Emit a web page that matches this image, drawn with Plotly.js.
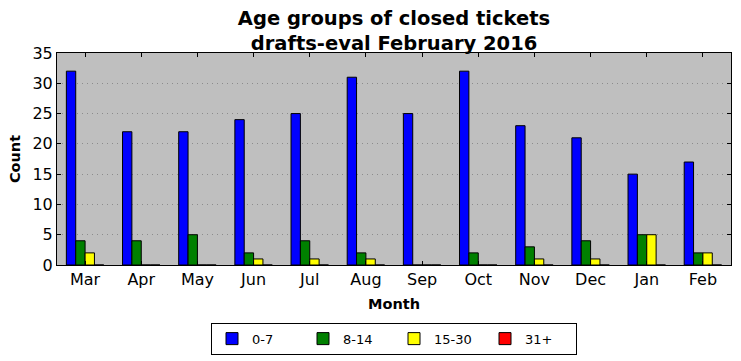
<!DOCTYPE html>
<html>
<head>
<meta charset="utf-8">
<script src="https://cdn.plot.ly/plotly-3.0.1.min.js"></script>
<style>html,body{margin:0;padding:0;background:#fff;}#chart{width:741px;height:361px;}</style>
</head>
<body>
<div id="chart"></div>
<script>
const months = ["Mar","Apr","May","Jun","Jul","Aug","Sep","Oct","Nov","Dec","Jan","Feb"];
const age0to7 = [32,22,22,24,25,31,25,32,23,21,15,17];
const age8to14 = [4,4,5,2,4,2,0,2,3,4,5,2];
const age15to30 = [2,0,0,1,1,1,0,0,1,1,5,2];
const age31plus = [0,0,0,0,0,0,0,0,0,0,0,0];
const seriesNames = ["0-7","8-14","15-30","31+"];
const seriesColors = ["#0000ff","#008000","#ffff00","#ff0000"];
const seriesData = [age0to7, age8to14, age15to30, age31plus];

const traces = seriesData.map((d,i)=>({
  type:'bar', x:months, y:d, name:seriesNames[i],
  marker:{color:seriesColors[i], line:{color:'#000', width:1}}
}));

const font = "DejaVu Sans, sans-serif";
const layout = {
  width:741, height:361,
  margin:{l:57, r:10, t:53, b:96, autoexpand:false},
  paper_bgcolor:'#fff', plot_bgcolor:'#bfbfbf',
  barmode:'group', bargap:1/3, bargroupgap:0,
  font:{family:font, color:'#000', size:16},
  title:{text:'<b>Age groups of closed tickets<br>drafts-eval February 2016</b>',
    font:{family:font, size:19.5, color:'#000'}, x:0.5, xref:'paper', xanchor:'center',
    y:1, yref:'paper', yanchor:'bottom', pad:{b:28}},
  xaxis:{type:'category', range:[-0.5,11.5], showline:true, linecolor:'#000', linewidth:1, mirror:'allticks',
    ticks:'inside', ticklen:4, tickcolor:'#000', showgrid:false, zeroline:false,
    tickfont:{family:font, size:16},
    title:{text:'<b>Month</b>', font:{family:font, size:14.5}, standoff:10}},
  yaxis:{range:[0,35], dtick:5, showline:true, linecolor:'#000', linewidth:1, mirror:'allticks',
    ticks:'inside', ticklen:4, tickcolor:'#000', showgrid:true, gridcolor:'#8c8c8c', griddash:'1px,4px', gridwidth:1,
    zeroline:false, tickfont:{family:font, size:16},
    title:{text:'<b>Count</b>', font:{family:font, size:14.5}, standoff:8}},
  showlegend:true,
  legend:{orientation:'h', x:0.5, xanchor:'center', y:-0.272, yanchor:'top',
    bordercolor:'#000', borderwidth:1, bgcolor:'#fff', font:{family:font, size:13},
    itemwidth:30, entrywidth:46, entrywidthmode:'pixels', traceorder:'normal'}
};
Plotly.newPlot('chart', traces, layout, {displayModeBar:false, staticPlot:true});
</script>
</body>
</html>
